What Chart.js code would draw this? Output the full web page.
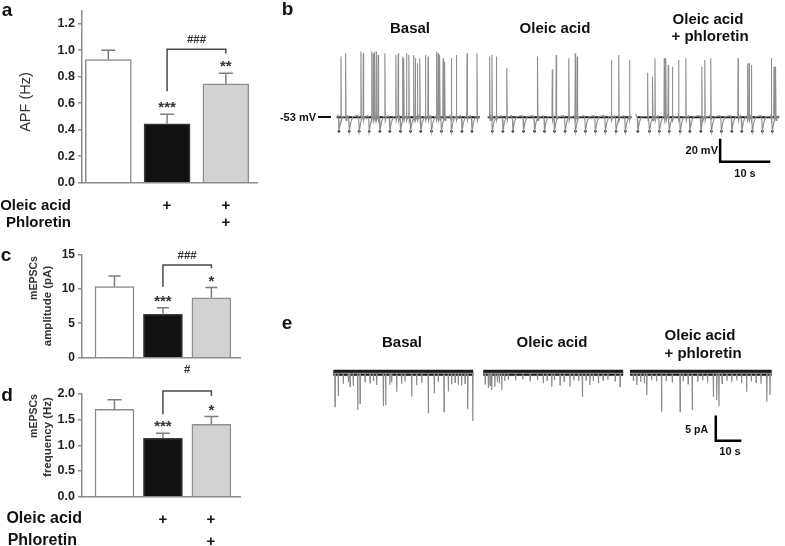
<!DOCTYPE html>
<html><head><meta charset="utf-8">
<script src="https://cdn.jsdelivr.net/npm/chart.js@4/dist/chart.umd.min.js"></script>
<style>
body{margin:0;background:#fff;width:785px;height:546px;position:relative;overflow:hidden;font-family:"Liberation Sans",Arial,sans-serif;}
canvas{position:absolute;left:0;top:0;}
.t{position:absolute;white-space:nowrap;line-height:1;color:#111;}
.dash{position:absolute;left:318px;top:116px;width:13px;height:2px;background:#111;}
</style></head><body>
<canvas id="ca" width="785" height="546"></canvas>
<canvas id="cc" width="785" height="546"></canvas>
<canvas id="cd" width="785" height="546"></canvas>
<canvas id="cb" width="785" height="546"></canvas>
<canvas id="ce" width="785" height="546"></canvas>
<div class="dash"></div>
<script>
// ---------- DATA ----------
const groups = ['Basal', 'Oleic acid', 'Oleic acid + phloretin'];
// panel a: action potential frequency (Hz)
const apfMean = [0.93, 0.445, 0.747];
const apfSem  = [0.07, 0.072, 0.079];
const apfStars = ['', '***', '**'];
const apfHash = '###';
// panel c: mEPSC amplitude (pA)
const ampMean = [10.3, 6.3, 8.7];
const ampSem  = [1.55, 0.95, 1.5];
const ampStars = ['', '***', '*'];
const ampHash = '###';
// panel d: mEPSC frequency (Hz)
const freqMean = [1.70, 1.137, 1.41];
const freqSem  = [0.19, 0.10, 0.15];
const freqStars = ['', '***', '*'];
const freqHash = '#';

// panel b: current-clamp traces (time in s, membrane potential in mV)
const restMV = -53;
const dipMV = -66;
const apSegments = [[0, 29.3], [30.9, 60.3], [61.5, 90.5]];
const apSpikeTimes = [
  [0.88,1.83,4.96,5.44,7.14,7.48,7.82,8.16,8.50,9.86,12.10,12.58,13.46,13.73,14.28,14.76,15.78,16.12,16.52,17.0,18.16,18.70,20.40,20.74,21.08,21.76,22.10,23.46,24.48,26.66,28.70],
  [31.29,31.76,32.65,34.82,41.1,44.1,44.9,47.5,48.8,49.2,56.2,57.7,59.9],
  [63.60,64.62,65.10,67.0,67.34,67.82,68.70,69.93,71.42,74.69,75.30,76.52,82.10,84.01,84.35,84.82,88.90,89.45,89.79]
];
const apSpikePeaks = [
  [2.9,6,7.5,6,7.5,6,7.5,7.5,4.4,6,4.4,6,2.9,1.4,6,4.4,4.4,1.4,-3.2,1.4,4.4,2.9,7.5,6,4.4,1.4,-1.7,1.4,4.4,6,6],
  [2.9,4.4,2.9,-7.8,2.9,-9,4.4,1.4,6,2.9,-0.2,4.4,-0.2],
  [-11.9,-15.6,1.4,1.4,1.4,-4.8,-6.4,-0.2,1.4,-6.4,-0.2,1.4,1.4,-3.2,-3.2,-4.8,1.4,-6.4,-6.4]
];
const apDipTimes = [
  [0.47,2.57,4.61,6.65,8.84,10.88,13.06,15.10,17.20,19.39,21.43,23.47,25.63,27.67],
  [31.84,34.0,36.04,38.22,40.47,42.51,44.55,46.73,48.84,50.88,52.92,54.96,57.14,59.04],
  [61.6,63.98,66.0,68.02,70.27,72.24,74.49,76.65,78.69,80.82,82.86,85.02,87.06,89.1]
];

// panel e: voltage-clamp traces (time in s, current in pA, events are inward)
const epscSegments = [[0, 57.6], [61.7, 119.3], [122.1, 180.4]];
const epscTimes = [
  [0.7,2.06,4.1,6.2,6.87,8.2,10.04,11.0,13.05,15.1,16.5,17.86,20.58,21.56,23.3,24.0,26.09,28.1,29.5,32.26,34.3,36.4,39.09,41.56,43.2,45.56,47.33,48.7,50.1,51.44,52.8,54.2,55.31,57.4],
  [62.5,63.8,64.5,65.2,66.5,67.5,68.3,69.3,70.5,72,75,78,81,84,86.4,88,89.9,91,93.3,95,97.4,99,101,102.5,104,105.6,107,109.1,111,113,116,118.0],
  [123.5,124.9,126.5,128,129.0,131,133,135.1,137,139.5,142.7,144,146,147.7,150,152,154,156.4,157.8,158.7,160,162,164,166,168,170.1,172,174,176,178.4,179.7]
];
const epscAmps = [
  [6.96,4.73,2.2,1.8,2.79,2.6,7.65,6.25,1.75,2.0,1.6,2.44,6.81,6.6,2.4,1.9,3.83,2.2,1.7,4.88,2.5,2.0,8.33,4.17,1.8,8.0,3.8,2.3,1.9,2.44,2.6,2.1,7.5,9.94],
  [2.2,3.06,2.5,3.48,2.79,1.8,2.1,3.48,1.6,1.4,1.5,1.3,1.6,1.4,2.08,1.5,2.79,1.4,2.44,1.7,2.79,1.5,1.6,4.88,1.4,2.44,1.6,2.08,1.5,1.4,1.6,2.79],
  [1.6,2.44,1.8,2.0,4.52,1.5,1.7,8.0,1.6,1.9,8.0,1.7,2.2,7.65,1.8,1.5,1.9,4.88,5.56,6.81,2.1,1.6,1.8,1.5,2.0,3.83,1.7,1.9,2.2,5.92,4.52]
];

// ---------- helpers ----------
const FONT = '"Liberation Sans", Arial, sans-serif';
function txt(s, x, y, size, opts = {}) {
  const d = document.createElement('div');
  d.className = 't';
  d.textContent = s;
  d.style.left = x + 'px';
  d.style.top = y + 'px';
  d.style.fontSize = size + 'px';
  d.style.fontWeight = opts.bold === false ? 'normal' : 'bold';
  if (opts.color) d.style.color = opts.color;
  const ax = opts.align === 'right' ? '-100%' : opts.align === 'left' ? '0' : '-50%';
  d.style.transform = 'translate(' + ax + ',-50%)' + (opts.rot ? ' rotate(-90deg)' : '');
  document.body.appendChild(d);
}

const barDeco = {
  id: 'barDeco',
  afterDatasetsDraw(chart, args, o) {
    const ctx = chart.ctx, xs = chart.scales.x, ys = chart.scales.y;
    ctx.save();
    ctx.lineCap = 'butt';
    o.mean.forEach((m, i) => {
      const x = xs.getPixelForValue(i + 1);
      const yb = ys.getPixelForValue(m);
      const yt = ys.getPixelForValue(m + o.sem[i]);
      ctx.strokeStyle = '#7d7d7d';
      ctx.lineWidth = 1.5;
      ctx.beginPath();
      ctx.moveTo(x, yb); ctx.lineTo(x, yt);
      ctx.moveTo(x - o.cap / 2, yt); ctx.lineTo(x + o.cap / 2, yt);
      ctx.stroke();
      if (o.stars[i]) {
        ctx.fillStyle = '#333';
        ctx.font = 'bold ' + o.starSize + 'px ' + FONT;
        ctx.textAlign = 'center';
        ctx.textBaseline = 'middle';
        ctx.fillText(o.stars[i], x, yt - o.starGap);
      }
    });
    // significance bracket between group 2 and 3
    const x1 = xs.getPixelForValue(2), x2 = xs.getPixelForValue(3);
    const yl = ys.getPixelForValue(o.br[0]), ytop = ys.getPixelForValue(o.br[1]), yr = ys.getPixelForValue(o.br[2]);
    ctx.strokeStyle = '#4a4a4a';
    ctx.lineWidth = 1.5;
    ctx.beginPath();
    ctx.moveTo(x1, yl); ctx.lineTo(x1, ytop); ctx.lineTo(x2, ytop); ctx.lineTo(x2, yr);
    ctx.stroke();
    ctx.fillStyle = '#333';
    ctx.font = 'bold ' + o.hashSize + 'px ' + FONT;
    ctx.textAlign = 'center';
    ctx.textBaseline = 'middle';
    ctx.fillText(o.hash, (x1 + x2) / 2, ytop - o.hashGap);
    ctx.restore();
  }
};

function barPanel(id, c) {
  new Chart(document.getElementById(id), {
    type: 'bar',
    data: { datasets: [{
      data: c.mean.map((v, i) => ({ x: i + 1, y: v })),
      backgroundColor: ['#ffffff', '#111111', '#d2d2d2'],
      borderColor: ['#8a8a8a', '#3a3a3a', '#8f8f8f'],
      borderWidth: 1.5,
      borderSkipped: 'start',
      barThickness: c.bw
    }]},
    options: {
      responsive: false, animation: false, events: [],
      layout: { padding: { left: 0, top: c.top, right: 785 - c.right, bottom: 546 - c.bottom } },
      plugins: { legend: { display: false }, tooltip: { enabled: false }, barDeco: c },
      scales: {
        x: { type: 'linear', min: c.xmin, max: c.xmax, offset: false,
             ticks: { display: false }, grid: { display: false, drawTicks: false },
             border: { display: true, color: '#8c8c8c', width: 1.5 },
             afterFit(s) { s.height = 0; } },
        y: { min: 0, max: c.ymax,
             ticks: { stepSize: c.step, includeBounds: false, color: '#222', padding: 3,
                      font: { family: FONT, size: c.tick, weight: 'bold' },
                      callback: v => Number(v).toFixed(c.dec) },
             grid: { drawOnChartArea: false, drawTicks: true, tickLength: 4, color: '#8c8c8c', lineWidth: 1.5 },
             border: { display: true, color: '#8c8c8c', width: 1.5 },
             afterFit(s) { s.width = c.left; } }
      }
    },
    plugins: [barDeco]
  });
}

barPanel('ca', { mean: apfMean, sem: apfSem, stars: apfStars, hash: apfHash,
  left: 82, right: 257, top: 8, bottom: 182.7, xmin: 0.552, xmax: 3.53, ymax: 1.3, step: 0.2, dec: 1,
  bw: 46, cap: 14, tick: 12.5, starSize: 15, starGap: 6, hashSize: 11.5, hashGap: 9,
  br: [0.69, 1.007, 0.975] });
barPanel('cc', { mean: ampMean, sem: ampSem, stars: ampStars, hash: ampHash,
  left: 82, right: 240, top: 254.3, bottom: 357.7, xmin: 0.33, xmax: 3.59, ymax: 15, step: 5, dec: 0,
  bw: 39, cap: 12, tick: 12, starSize: 15, starGap: 6, hashSize: 11.5, hashGap: 9,
  br: [10.3, 13.45, 12.97] });
barPanel('cd', { mean: freqMean, sem: freqSem, stars: freqStars, hash: freqHash,
  left: 82, right: 240, top: 394, bottom: 496.7, xmin: 0.33, xmax: 3.59, ymax: 2.0, step: 0.5, dec: 1,
  bw: 39, cap: 14, tick: 12.5, starSize: 15, starGap: 6, hashSize: 11.5, hashGap: 21,
  br: [1.605, 2.06, 1.96] });

// ---------- traces ----------
const scaleBar = {
  id: 'scaleBar',
  afterDatasetsDraw(chart, args, o) {
    const ctx = chart.ctx, xs = chart.scales.x, ys = chart.scales.y;
    const x0 = xs.getPixelForValue(o.t0), x1 = xs.getPixelForValue(o.t0 + o.dt);
    const y0 = ys.getPixelForValue(o.v0), y1 = ys.getPixelForValue(o.v0 + o.dv);
    ctx.save();
    ctx.strokeStyle = '#000';
    ctx.lineWidth = o.w;
    ctx.lineCap = 'square';
    ctx.beginPath();
    ctx.moveTo(x0, y1); ctx.lineTo(x0, y0); ctx.lineTo(x1, y0);
    ctx.stroke();
    ctx.restore();
  }
};

function apTrace() {
  const pts = [];
  apSegments.forEach((seg, s) => {
    const ev = [];
    apSpikeTimes[s].forEach((t, i) => ev.push({ t, v: apSpikePeaks[s][i], k: 's' }));
    apDipTimes[s].forEach(t => ev.push({ t, v: dipMV, k: 'd' }));
    ev.sort((a, b) => a.t - b.t);
    pts.push({ x: seg[0], y: restMV });
    ev.forEach(e => {
      if (e.k === 's') {
        pts.push({ x: e.t - 0.06, y: restMV + 1 }, { x: e.t, y: e.v }, { x: e.t + 0.08, y: restMV - 3 }, { x: e.t + 0.25, y: restMV });
      } else {
        pts.push({ x: e.t - 0.3, y: restMV + 1.5 }, { x: e.t - 0.1, y: restMV - 2 }, { x: e.t, y: e.v }, { x: e.t + 0.3, y: restMV - 5 }, { x: e.t + 0.7, y: restMV + 0.5 });
      }
    });
    pts.push({ x: seg[1], y: restMV }, { x: seg[1] + 0.01, y: null });
  });
  return pts;
}
function apBase() {
  const pts = [];
  apSegments.forEach(seg => pts.push({ x: seg[0], y: restMV }, { x: seg[1], y: restMV }, { x: seg[1] + 0.01, y: null }));
  return pts;
}
function apDips() {
  const pts = [];
  apDipTimes.forEach(a => a.forEach(t => pts.push({ x: t, y: dipMV })));
  return pts;
}
function epscTrace() {
  const pts = [];
  epscSegments.forEach((seg, s) => {
    pts.push({ x: seg[0], y: 0 });
    epscTimes[s].forEach((t, i) => {
      pts.push({ x: t - 0.08, y: 0 }, { x: t, y: -epscAmps[s][i] }, { x: t + 0.12, y: 0 });
    });
    pts.push({ x: seg[1], y: 0 }, { x: seg[1] + 0.01, y: null });
  });
  return pts;
}
function epscBase() {
  const pts = [];
  epscSegments.forEach(seg => pts.push({ x: seg[0], y: 0.1 }, { x: seg[1], y: 0.1 }, { x: seg[1] + 0.01, y: null }));
  return pts;
}

function tracePanel(id, c) {
  new Chart(document.getElementById(id), {
    type: 'line',
    data: { datasets: c.datasets },
    options: {
      responsive: false, animation: false, events: [],
      layout: { padding: c.pad },
      plugins: { legend: { display: false }, tooltip: { enabled: false }, scaleBar: c.bar },
      elements: { point: { radius: 0 }, line: { tension: 0 } },
      scales: {
        x: { type: 'linear', display: false, min: c.x[0], max: c.x[1] },
        y: { type: 'linear', display: false, min: c.y[0], max: c.y[1] }
      }
    },
    plugins: [scaleBar]
  });
}

tracePanel('cb', {
  pad: { left: 330, right: 3, top: 40, bottom: 371 },
  x: [-1.367, 90.88], y: [-106.2, 18.2],
  bar: { t0: 78.43, v0: -93.9, dt: 10, dv: 20, w: 2.5 },
  datasets: [
    { data: apTrace(), borderColor: '#8e8e8e', borderWidth: 1.1, spanGaps: false, clip: false },
    { data: apBase(), borderColor: '#1a1a1a', borderWidth: 2.2, spanGaps: false, clip: false },
    { data: apDips(), showLine: false, pointRadius: 1.3, pointBackgroundColor: '#222', pointBorderWidth: 0, clip: false }
  ]
});
tracePanel('ce', {
  pad: { left: 325, right: 3, top: 355, bottom: 86 },
  x: [-3.42, 184.65], y: [-18.06, 3.81],
  bar: { t0: 157.4, v0: -14.04, dt: 10, dv: 5, w: 2.5 },
  datasets: [
    { data: epscTrace(), borderColor: '#8a8a8a', borderWidth: 1.2, spanGaps: false, clip: false },
    { data: epscBase(), borderColor: '#1a1a1a', borderWidth: 6, spanGaps: false, clip: false }
  ]
});

// ---------- text ----------
txt('a', 7, 9, 19);
txt('b', 287.5, 8, 19);
txt('c', 6, 254, 19);
txt('d', 7, 394, 19);
txt('e', 287, 322, 19);

txt('APF (Hz)', 25, 102, 14.5, { bold: false, rot: true, color: '#333' });
txt('mEPSCs', 33, 278, 10.5, { rot: true, color: '#333' });
txt('amplitude (pA)', 48, 306, 11.5, { rot: true, color: '#333' });
txt('mEPSCs', 33, 416, 10.5, { rot: true, color: '#333' });
txt('frequency (Hz)', 48, 437, 11.5, { rot: true, color: '#333' });

txt('Oleic acid', 71, 204, 15, { align: 'right' });
txt('Phloretin', 71, 221, 15, { align: 'right' });
txt('+', 167, 204, 15); txt('+', 226, 204, 15); txt('+', 226, 221, 15);
txt('Oleic acid', 82, 518, 16, { align: 'right' });
txt('Phloretin', 77, 540, 16, { align: 'right' });
txt('+', 163, 518, 15); txt('+', 211, 518, 15); txt('+', 211, 540, 15);

txt('Basal', 410, 27, 15);
txt('Oleic acid', 555, 27, 15);
txt('Oleic acid', 708, 18, 15);
txt('+ phloretin', 710, 35, 15);
txt('-53 mV', 316, 117, 11, { align: 'right' });
txt('20 mV', 718, 150, 11, { align: 'right' });
txt('10 s', 745, 173, 11);

txt('Basal', 402, 341, 15);
txt('Oleic acid', 552, 341, 15);
txt('Oleic acid', 700, 334, 15);
txt('+ phloretin', 703, 352, 15);
txt('5 pA', 708, 429, 10.5, { align: 'right' });
txt('10 s', 730, 451, 11);
</script>
</body></html>
